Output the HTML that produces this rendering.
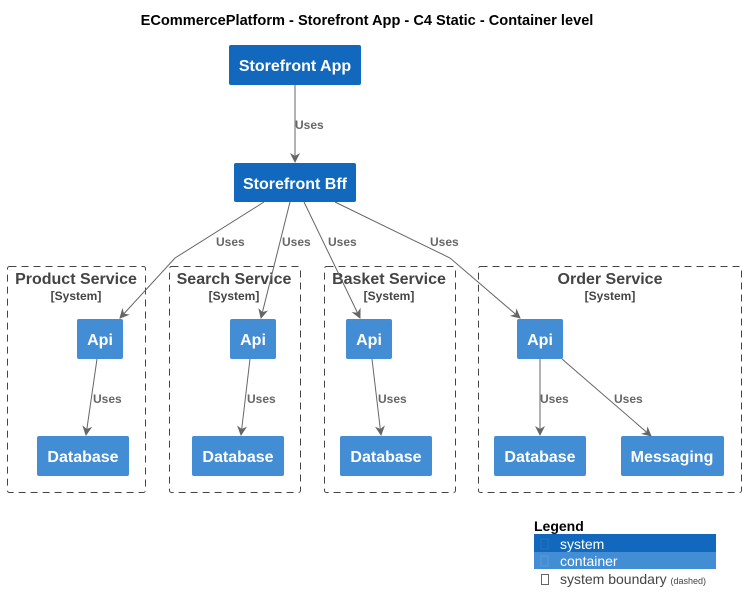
<!DOCTYPE html>
<html><head><style>
html,body{margin:0;padding:0;background:#fff;}
svg{display:block;font-family:"Liberation Sans",Arial,sans-serif;}
.b{fill:#fff;font-weight:bold;text-anchor:middle;font-size:16px;}
.u{fill:#666;font-weight:bold;font-size:12px;}
.t{fill:#444;font-weight:bold;text-anchor:middle;font-size:16px;}
.s{fill:#444;font-weight:bold;text-anchor:middle;font-size:12px;}
.e{stroke:#666;stroke-width:1;fill:none;}
.bd{fill:none;stroke:#444;stroke-dasharray:7 5;}
</style></head><body>
<svg width="746" height="613" viewBox="0 0 746 613">
<defs><marker id="a" markerWidth="10" markerHeight="10" refX="9" refY="5" orient="auto" markerUnits="userSpaceOnUse"><path d="M0,0 L10,5 L0,10 L3,5 Z" fill="#666"/></marker></defs>
<text x="367" y="25" text-anchor="middle" font-weight="bold" font-size="14.6" fill="#000">ECommercePlatform - Storefront App - C4 Static - Container level</text>

<rect x="229" y="45" width="132" height="40" rx="2" fill="#1168BD"/>
<text class="b" x="295" y="71">Storefront App</text>
<rect x="234" y="163" width="122" height="39" rx="2" fill="#1168BD"/>
<text class="b" x="295" y="189">Storefront Bff</text>
<line class="e" x1="295" y1="85" x2="295" y2="162" marker-end="url(#a)"/>
<text class="u" x="295" y="129">Uses</text>

<rect class="bd" x="7.5" y="266.5" width="138" height="226" rx="2"/>
<rect class="bd" x="169.5" y="266.5" width="131" height="226" rx="2"/>
<rect class="bd" x="324.5" y="266.5" width="131" height="226" rx="2"/>
<rect class="bd" x="478.5" y="266.5" width="263" height="226" rx="2"/>
<text class="t" x="76" y="284">Product Service</text><text class="s" x="76" y="300">[System]</text>
<text class="t" x="234" y="284">Search Service</text><text class="s" x="234" y="300">[System]</text>
<text class="t" x="389" y="284">Basket Service</text><text class="s" x="389" y="300">[System]</text>
<text class="t" x="610" y="284">Order Service</text><text class="s" x="610" y="300">[System]</text>

<g fill="#438DD5">
<rect x="77" y="319" width="46" height="40" rx="2"/>
<rect x="230" y="319" width="46" height="40" rx="2"/>
<rect x="346" y="319" width="46" height="40" rx="2"/>
<rect x="517" y="319" width="46" height="40" rx="2"/>
<rect x="37" y="436" width="92" height="40" rx="2"/>
<rect x="192" y="436" width="92" height="40" rx="2"/>
<rect x="340" y="436" width="92" height="40" rx="2"/>
<rect x="494" y="436" width="92" height="40" rx="2"/>
<rect x="621" y="436" width="103" height="40" rx="2"/>
</g>
<text class="b" x="100" y="345">Api</text>
<text class="b" x="253" y="345">Api</text>
<text class="b" x="369" y="345">Api</text>
<text class="b" x="540" y="345">Api</text>
<text class="b" x="83" y="462">Database</text>
<text class="b" x="238" y="462">Database</text>
<text class="b" x="386" y="462">Database</text>
<text class="b" x="540" y="462">Database</text>
<text class="b" x="672" y="462">Messaging</text>

<polyline class="e" points="264,202 175,258 120,318" marker-end="url(#a)"/>
<line class="e" x1="290" y1="202" x2="261" y2="318" marker-end="url(#a)"/>
<line class="e" x1="304" y1="202" x2="360" y2="318" marker-end="url(#a)"/>
<polyline class="e" points="335,202 450,258 520,318" marker-end="url(#a)"/>
<text class="u" x="216" y="246">Uses</text>
<text class="u" x="282" y="246">Uses</text>
<text class="u" x="328" y="246">Uses</text>
<text class="u" x="430" y="246">Uses</text>

<line class="e" x1="97" y1="359" x2="86" y2="435" marker-end="url(#a)"/>
<line class="e" x1="250" y1="359" x2="241" y2="435" marker-end="url(#a)"/>
<line class="e" x1="372" y1="359" x2="381" y2="435" marker-end="url(#a)"/>
<line class="e" x1="540" y1="359" x2="540" y2="435" marker-end="url(#a)"/>
<line class="e" x1="562" y1="359" x2="651" y2="436" marker-end="url(#a)"/>
<text class="u" x="93" y="403">Uses</text>
<text class="u" x="247" y="403">Uses</text>
<text class="u" x="378" y="403">Uses</text>
<text class="u" x="540" y="403">Uses</text>
<text class="u" x="614" y="403">Uses</text>

<text x="534" y="531" font-weight="bold" font-size="14" fill="#000">Legend</text>
<rect x="534" y="534" width="182" height="18" fill="#1168BD"/>
<rect x="534" y="552" width="182" height="17" fill="#438DD5"/>
<rect x="541" y="539" width="7" height="10" fill="none" stroke="#2a73c0" stroke-width="1"/>
<rect x="541" y="556" width="7" height="10" fill="none" stroke="#5a9ad8" stroke-width="1"/>
<rect x="541.5" y="574.5" width="7" height="10" fill="none" stroke="#666" stroke-width="1"/>
<text x="560" y="549" font-size="14" fill="#fff">system</text>
<text x="560" y="566" font-size="14" fill="#fff">container</text>
<text x="560" y="584" font-size="14" fill="#444">system boundary <tspan font-size="9">(dashed)</tspan></text>
</svg>
</body></html>
